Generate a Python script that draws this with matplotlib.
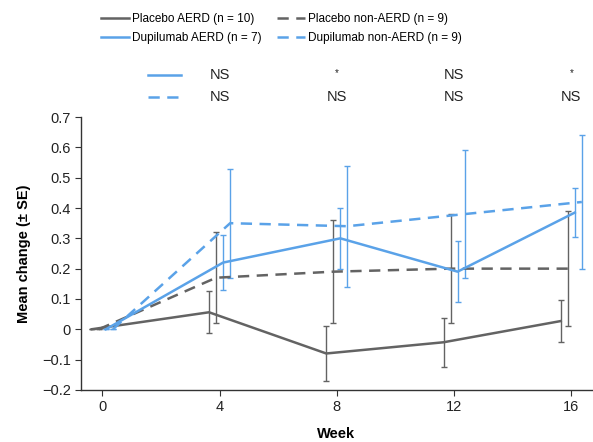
import matplotlib
matplotlib.use("Agg")
import matplotlib.pyplot as plt
from matplotlib.lines import Line2D
import matplotlib.transforms as mtransforms
import numpy as np

plt.rcParams['font.family'] = ['Liberation Sans', 'DejaVu Sans']

weeks = [0, 4, 8, 12, 16]

placebo_aerd = [0, 0.056, -0.08, -0.043, 0.027]
placebo_aerd_se = [0, 0.07, 0.09, 0.08, 0.07]

placebo_non = [0, 0.17, 0.19, 0.20, 0.20]
placebo_non_se = [0, 0.15, 0.17, 0.18, 0.19]

dupi_aerd = [0, 0.22, 0.30, 0.19, 0.385]
dupi_aerd_se = [0, 0.09, 0.10, 0.10, 0.08]

dupi_non = [0, 0.35, 0.34, 0.38, 0.42]
dupi_non_se = [0, 0.18, 0.20, 0.21, 0.22]

labels = ["Placebo AERD (n = 10)", "Placebo non-AERD (n = 9)",
          "Dupilumab AERD (n = 7)", "Dupilumab non-AERD (n = 9)"]

sig_weeks = [4, 8, 12, 16]
sig_aerd = ["NS", "*", "NS", "*"]
sig_non = ["NS", "NS", "NS", "NS"]

gray = "#636363"
blue = "#5aa2e8"

fig = plt.figure(figsize=(5.93, 4.42), dpi=100)
ax = fig.add_axes([0.137, 0.118, 0.861, 0.617])

series = [
    (placebo_aerd, placebo_aerd_se, gray, "-", -0.36),
    (placebo_non, placebo_non_se, gray, (0, (4.5, 3)), -0.12),
    (dupi_aerd, dupi_aerd_se, blue, "-", 0.12),
    (dupi_non, dupi_non_se, blue, (0, (4.5, 3)), 0.36),
]
handles = []
for (vals, se, col, ls, off), lab in zip(series, labels):
    x = np.array(weeks) + off
    ax.errorbar(x, vals, yerr=se, fmt="none", ecolor=col, elinewidth=1.0,
                capsize=2.5, capthick=1.0, zorder=2)
    ln, = ax.plot(x, vals, color=col, linestyle=ls, linewidth=1.8, zorder=3,
                  label=lab)
    handles.append(ln)

ax.set_xlim(-0.72, 16.7)
ax.set_ylim(-0.2, 0.7)
ax.set_xticks(weeks)
ax.set_yticks(np.round(np.arange(-0.2, 0.71, 0.1), 1))
ax.set_yticklabels(["\u22120.2", "\u22120.1", "0", "0.1", "0.2", "0.3", "0.4",
                    "0.5", "0.6", "0.7"])
ax.spines['top'].set_visible(False)
ax.spines['right'].set_visible(False)
for s in ['left', 'bottom']:
    ax.spines[s].set_color("#333333")
    ax.spines[s].set_linewidth(1.0)
ax.tick_params(axis='both', labelsize=10.5, length=4, color="#333333",
               labelcolor="#222222")
ax.set_xlabel("Week", fontsize=10.5, fontweight="bold", labelpad=9)
ax.set_ylabel("Mean change (\u00b1 SE)", fontsize=10.5, fontweight="bold",
              labelpad=8)

# top legend
order = [0, 2, 1, 3]
fig.legend([handles[i] for i in order], [labels[i] for i in order],
           ncol=2, loc="upper left", bbox_to_anchor=(0.158, 1 - 6 / 442),
           frameon=False, fontsize=8.5, handlelength=2.4, handletextpad=0.25,
           columnspacing=1.3, labelspacing=0.6, borderaxespad=0.2)

# significance rows
trans = mtransforms.blended_transform_factory(ax.transData, fig.transFigure)
row_y = [1 - 75 / 442, 1 - 97 / 442]
for ry, ls, sig in zip(row_y, ["-", (0, (4.5, 3))], [sig_aerd, sig_non]):
    fig.add_artist(Line2D([148 / 593, 181 / 593], [ry, ry], color=blue,
                          linestyle=ls, linewidth=1.8,
                          transform=fig.transFigure))
    for w, s in zip(sig_weeks, sig):
        fig.text(w, ry if s != "*" else ry + 0.004, s, transform=trans,
                 ha="center", va="center",
                 fontsize=10.5 if s != "*" else 7, color="#222222")

fig.savefig("out.png", dpi=100)
